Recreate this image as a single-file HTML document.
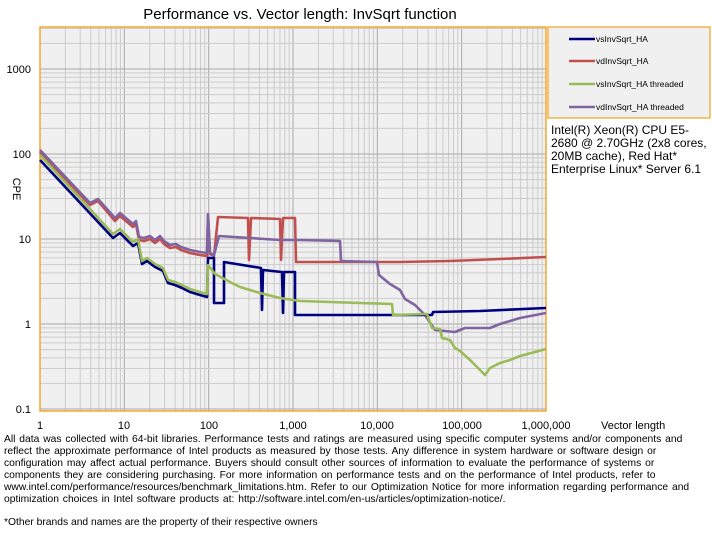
<!DOCTYPE html>
<html><head><meta charset="utf-8"><style>
body{margin:0;background:#fff;width:712px;height:546px;overflow:hidden;font-family:"Liberation Sans",sans-serif;}
.t{position:absolute;font-size:10.3px;color:#000;line-height:12px;}
</style></head><body>
<svg width="712" height="546" style="position:absolute;left:0;top:0" font-family="Liberation Sans, sans-serif">
<text x="300" y="19" font-size="15" text-anchor="middle">Performance vs. Vector length: InvSqrt function</text>
<rect x="40" y="27" width="506" height="384" fill="#f0f0f0"/>
<g id="grid" stroke="#c8c8c8" stroke-width="1"></g>
<rect x="40" y="27" width="506" height="384" fill="none" stroke="#f7a020" stroke-width="1.4"/>
<rect x="548" y="27" width="162" height="91" fill="#f0f0f0" stroke="#f7a020" stroke-width="1.2"/>
<g font-size="8.5">
<line x1="569" y1="39" x2="595" y2="39" stroke="#00007f" stroke-width="2.5"/><text x="596" y="42">vsInvSqrt_HA</text>
<line x1="569" y1="61" x2="595" y2="61" stroke="#c0504d" stroke-width="2.5"/><text x="596" y="64">vdInvSqrt_HA</text>
<line x1="569" y1="84" x2="595" y2="84" stroke="#9bbb59" stroke-width="2.5"/><text x="596" y="87">vsInvSqrt_HA threaded</text>
<line x1="569" y1="107" x2="595" y2="107" stroke="#8064a2" stroke-width="2.5"/><text x="596" y="110">vdInvSqrt_HA threaded</text>
</g>
<g font-size="11" text-anchor="end">
<text x="31" y="73">1000</text><text x="31" y="158">100</text><text x="31" y="243">10</text><text x="31" y="328">1</text><text x="31" y="413">0.1</text>
</g>
<text x="13" y="189" font-size="11" text-anchor="middle" transform="rotate(90 13 189)">CPE</text>
<g font-size="11" text-anchor="middle">
<text x="40" y="429">1</text><text x="124" y="429">10</text><text x="209" y="429">100</text><text x="293" y="429">1,000</text><text x="377" y="429">10,000</text><text x="462" y="429">100,000</text><text x="546" y="429">1,000,000</text>
</g>
<text x="601" y="429" font-size="11">Vector length</text>
<g fill="none" stroke-width="2.6" stroke-linejoin="round">
<polyline stroke="#c0504d" points="40,152 90,205 98,201 115,221 120,216 133,227 136,224 139,240 144,241 150,239 155,243 160,239 164,244 170,248 176,247 181,250 190,253 200,255 207,256 208,214 210,254 214,256 218,217 248,218 249,260 251,218 280,219 281,260 283,218 295,218 296,262 400,262 450,261 500,259 546,257"/>
<polyline stroke="#8064a2" points="40,150 90,203 98,199 115,218 120,213 133,224 136,221 139,237 144,238 150,236 155,240 160,236 164,241 170,245 176,244 181,247 190,250 200,252 207,253 208,214 210,253 214,255 219,236 250,238 280,240 300,240 340,241 341,261 377,262 379,275 390,284 400,290 405,299 415,305 425,315 435,330 445,331 455,332 465,328 480,328 490,328 500,324 520,318 546,313"/>
<polyline stroke="#00007f" points="40,160 113,238 120,233 133,246 138,243 142,264 147,261 155,267 163,271 168,283 175,285 182,288 190,292 200,295 207,297 208,258 214,258 214,303 224,303 224,262 261,268 262,310 263,270 282,272 283,313 284,272 295,272 295,315 432,315 433,312 480,311 546,308"/>
<polyline stroke="#9bbb59" points="40,155 113,234 120,229 133,242 138,239 142,261 147,258 155,264 163,268 168,280 175,282 182,285 190,289 200,292 207,294 208,265 215,274 230,282 240,287 260,293 280,298 300,301 330,302 360,303 392,304 393,315 427,314 432,328 440,329 442,338 450,340 455,348 460,351 470,360 480,370 485,375 490,368 500,363 510,360 520,356 546,349"/>
</g>
</svg>
<div class="t" style="left:551px;top:124px;font-size:12px;line-height:13px;width:160px">Intel(R) Xeon(R) CPU E5-2680 @ 2.70GHz (2x8 cores, 20MB cache), Red Hat* Enterprise Linux* Server 6.1</div>
<div class="t" style="left:4px;top:434px;width:690px;word-spacing:1px">All data was collected with 64-bit libraries. Performance tests and ratings are measured using specific computer systems and/or components and reflect the approximate performance of Intel products as measured by those tests. Any difference in system hardware or software design or configuration may affect actual performance. Buyers should consult other sources of information to evaluate the performance of systems or components they are considering purchasing. For more information on performance tests and on the performance of Intel products, refer to www.intel.com/performance/resources/benchmark_limitations.htm. Refer to our Optimization Notice for more information regarding performance and optimization choices in Intel software products at: http://software.intel.com/en-us/articles/optimization-notice/.</div>
<div class="t" style="left:4px;top:517px">*Other brands and names are the property of their respective owners</div>
<script>
var g=document.getElementById('grid'),s='';
for(var d=0;d<6;d++)for(var k=1;k<10;k++){var x=40+84.33*(d+Math.log10(k));s+='<line x1="'+x+'" y1="27" x2="'+x+'" y2="411" stroke="'+(k==1?'#aaa':'#ccc')+'"/>';}
for(var d=-1;d<4;d++)for(var k=1;k<10;k++){var y=324-85*(d+Math.log10(k));if(y<27)continue;s+='<line x1="40" y1="'+y+'" x2="546" y2="'+y+'" stroke="'+(k==1?'#aaa':'#ccc')+'"/>';}
g.innerHTML=s;
</script>
</body></html>
